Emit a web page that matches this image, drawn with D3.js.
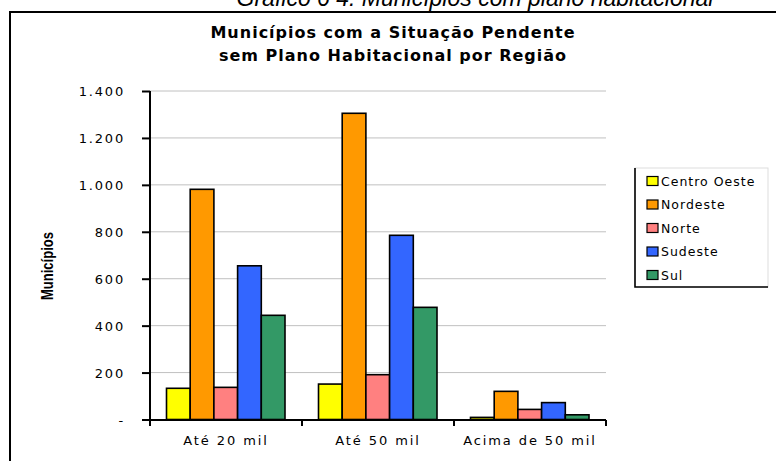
<!DOCTYPE html>
<html>
<head>
<meta charset="utf-8">
<script src="https://cdn.jsdelivr.net/npm/d3@7"></script>
<style>
  body { margin: 0; background: #fff; }
  svg { display: block; }
</style>
</head>
<body>
<div class="canva"></div>
<script>
// data
const categories = ['Até 20 mil', 'Até 50 mil', 'Acima de 50 mil'];
const regions = ['Centro Oeste', 'Nordeste', 'Norte', 'Sudeste', 'Sul'];
const centroOeste = [133, 151, 9];
const nordeste = [981, 1305, 120];
const norte = [137, 191, 43];
const sudeste = [655, 785, 72];
const sul = [444, 478, 20];
const yTicks = [0, 200, 400, 600, 800, 1000, 1200, 1400];

const series = [centroOeste, nordeste, norte, sudeste, sul];
const colors = ['#ffff00', '#ff9900', '#ff8080', '#3366ff', '#339966'];

const W = 776, H = 461;
const svg = d3.select('.canva').append('svg')
  .attr('width', W)
  .attr('height', H);

// outer frame (only left + top edges show in the crop)
svg.append('rect')
  .attr('x', 10).attr('y', 12)
  .attr('width', 800).attr('height', 500)
  .attr('fill', 'none')
  .attr('stroke', '#000')
  .attr('stroke-width', 2);

// caption cut off at top of image
svg.append('text')
  .attr('x', 475).attr('y', 6)
  .attr('text-anchor', 'middle')
  .style('font-family', 'Liberation Sans, Arial, sans-serif')
  .style('font-style', 'italic')
  .style('font-size', '23px')
  .text('Gráfico 6 4: Municípios com plano habitacional');

// chart title
const title = svg.append('text')
  .attr('text-anchor', 'middle')
  .style('font-family', 'DejaVu Sans, Verdana, sans-serif')
  .style('font-weight', 'bold')
  .style('font-size', '16px')
  .style('letter-spacing', '1px');
title.append('tspan').attr('x', 393).attr('y', 38).text('Municípios com a Situação Pendente');
title.append('tspan').attr('x', 393).attr('y', 61).text('sem Plano Habitacional por Região');

const x0 = d3.scaleBand()
  .domain(categories)
  .range([150, 606]);

const x1 = d3.scaleBand()
  .domain(regions)
  .range([16.5, x0.bandwidth() - 17]);

const y = d3.scaleLinear()
  .domain([0, 1400])
  .range([419.5, 91]);

const ptBR = d3.formatLocale({decimal: ',', thousands: '.', grouping: [3], currency: ['R$', '']});
const fmt = ptBR.format(',');

// gridlines
svg.append('g')
  .selectAll('line')
  .data(yTicks.filter(d => d > 0))
  .enter().append('line')
  .attr('x1', 150).attr('x2', 606)
  .attr('y1', d => y(d)).attr('y2', d => y(d))
  .attr('stroke', '#c0c0c0')
  .attr('stroke-width', 1);

// bars
const groups = svg.append('g')
  .selectAll('g')
  .data(categories)
  .enter().append('g')
  .attr('transform', d => `translate(${x0(d)},0)`);

groups.selectAll('rect')
  .data((c, ci) => regions.map((r, ri) => ({r, v: series[ri][ci], fill: colors[ri]})))
  .enter().append('rect')
  .attr('x', d => x1(d.r))
  .attr('width', x1.bandwidth())
  .attr('y', d => y(d.v))
  .attr('height', d => y(0) - y(d.v))
  .attr('fill', d => d.fill)
  .attr('stroke', '#000')
  .attr('stroke-width', 1.6);

// y axis
const yAxis = svg.append('g')
  .attr('transform', 'translate(150,0)')
  .call(d3.axisLeft(y).tickValues(yTicks).tickSize(8).tickPadding(17)
    .tickFormat(d => d === 0 ? '-' : fmt(d)));
yAxis.select('.domain').attr('stroke-width', 2).attr('d', 'M0,91V420');
yAxis.selectAll('.tick line').attr('stroke-width', 2);
yAxis.selectAll('.tick text')
  .style('font-family', 'DejaVu Sans, Verdana, sans-serif')
  .style('font-size', '13px')
  .style('letter-spacing', '1.8px')
  .attr('dy', '0.35em');

// x axis
const xAxis = svg.append('g')
  .attr('transform', 'translate(0,420)')
  .call(d3.axisBottom(x0).tickSize(0).tickPadding(16));
xAxis.select('.domain').attr('stroke-width', 2).attr('d', 'M142,0H606');
xAxis.selectAll('.tick text')
  .style('font-family', 'DejaVu Sans, Verdana, sans-serif')
  .style('font-size', '13px')
  .style('letter-spacing', '1.9px');
xAxis.append('g')
  .selectAll('line')
  .data(categories.concat(['end']))
  .enter().append('line')
  .attr('x1', d => d === 'end' ? 606 : x0(d))
  .attr('x2', d => d === 'end' ? 606 : x0(d))
  .attr('y1', 0).attr('y2', 6)
  .attr('stroke', '#000')
  .attr('stroke-width', 2);

// y axis title (narrow bold)
svg.append('text')
  .attr('transform', 'translate(53,266) rotate(-90)')
  .attr('text-anchor', 'middle')
  .attr('textLength', 68)
  .attr('lengthAdjust', 'spacingAndGlyphs')
  .style('font-family', 'Liberation Sans, Arial, sans-serif')
  .style('font-weight', 'bold')
  .style('font-size', '17px')
  .text('Municípios');

// legend
const lg = svg.append('g');
lg.append('rect')
  .attr('x', 635).attr('y', 168)
  .attr('width', 133).attr('height', 119)
  .attr('fill', '#fff')
  .attr('stroke', '#ddd')
  .attr('stroke-width', 1);
lg.append('path')
  .attr('d', 'M635,168V287H768')
  .attr('fill', 'none')
  .attr('stroke', '#000')
  .attr('stroke-width', 1.6);

const items = lg.selectAll('g.item')
  .data(regions)
  .enter().append('g')
  .attr('class', 'item')
  .attr('transform', (d, i) => `translate(647,${181 + i * 23.5})`);
items.append('rect')
  .attr('x', 0).attr('y', -4.5)
  .attr('width', 11).attr('height', 9)
  .attr('fill', (d, i) => colors[i])
  .attr('stroke', '#000')
  .attr('stroke-width', 1.2);
items.append('text')
  .attr('x', 14).attr('dy', '0.38em')
  .style('font-family', 'DejaVu Sans, Verdana, sans-serif')
  .style('font-size', '12.5px')
  .style('letter-spacing', '1px')
  .text(d => d);
</script>
</body>
</html>
